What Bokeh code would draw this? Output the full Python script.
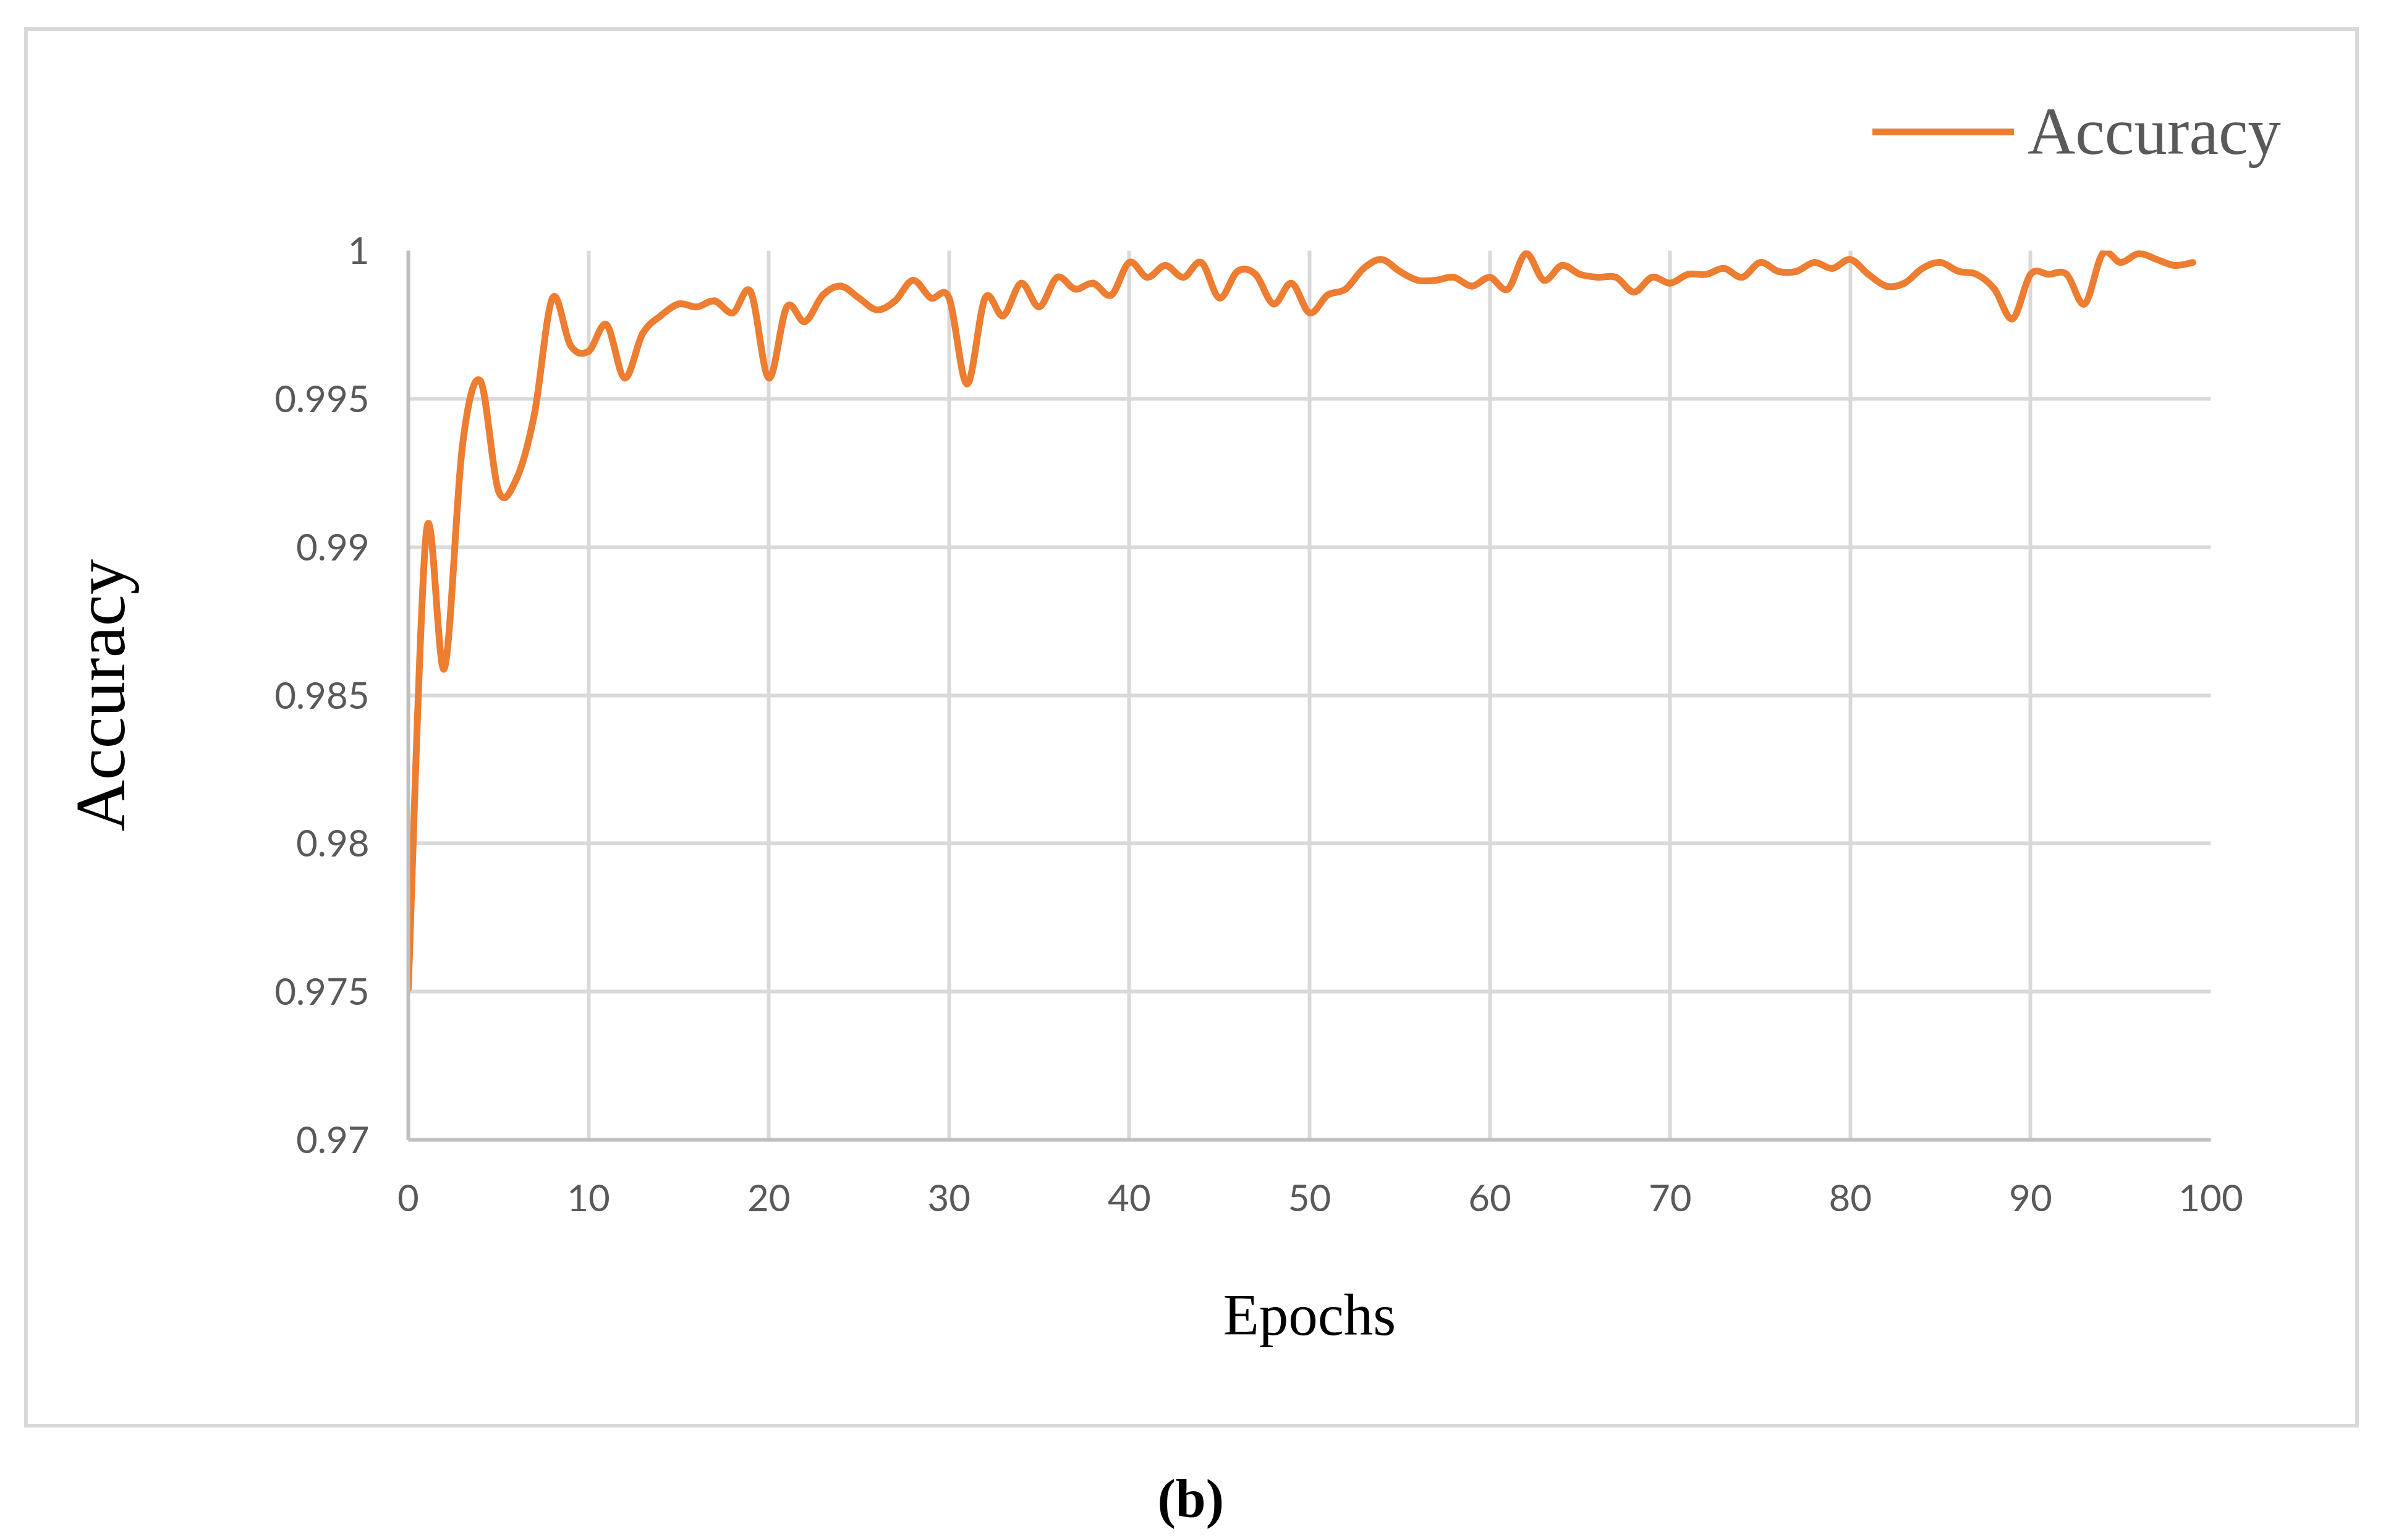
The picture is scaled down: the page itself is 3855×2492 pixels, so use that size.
from bokeh.plotting import figure
from bokeh.layouts import column
from bokeh.models import (FixedTicker, CustomJSTickFormatter, Legend, LegendItem,
                          Title, Range1d, ColumnDataSource)
from bokeh.embed import file_html
from bokeh.resources import INLINE

# ---------------- data ----------------
epochs = list(range(100))
accuracy = [
    0.9751, 0.9905, 0.9859, 0.9934, 0.9956, 0.9919, 0.9923, 0.9945, 0.9984, 0.9968,
    0.9966, 0.9975, 0.9957, 0.9972, 0.9978, 0.9982, 0.9981, 0.9983, 0.9979, 0.9986,
    0.9957, 0.9981, 0.9976, 0.9985, 0.9988, 0.9984, 0.9980, 0.9983, 0.9990, 0.9984,
    0.9984, 0.9955, 0.9984, 0.9978, 0.9989, 0.9981, 0.9991, 0.9987, 0.9989, 0.9985,
    0.9996, 0.9991, 0.9995, 0.9991, 0.9996, 0.9984, 0.9993, 0.9992, 0.9982, 0.9989,
    0.9979, 0.9985, 0.9987, 0.9994, 0.9997, 0.9993, 0.9990, 0.9990, 0.9991, 0.9988,
    0.9991, 0.9987, 0.9999, 0.9990, 0.9995, 0.9992, 0.9991, 0.9991, 0.9986, 0.9991,
    0.9989, 0.9992, 0.9992, 0.9994, 0.9991, 0.9996, 0.9993, 0.9993, 0.9996, 0.9994,
    0.9997, 0.9992, 0.9988, 0.9989, 0.9994, 0.9996, 0.9993, 0.9992, 0.9987, 0.9977,
    0.9992, 0.9992, 0.9992, 0.9982, 0.9999, 0.9996, 0.9999, 0.9997, 0.9995, 0.9996,
]
x_ticks = [0, 10, 20, 30, 40, 50, 60, 70, 80, 90, 100]
x_tick_labels = ["0", "10", "20", "30", "40", "50", "60", "70", "80", "90", "100"]
y_ticks = [0.97, 0.975, 0.98, 0.985, 0.99, 0.995, 1.0]
y_tick_labels = ["0.97", "0.975", "0.98", "0.985", "0.99", "0.995", "1"]
x_min, x_max = 0, 100
y_min, y_max = 0.97, 1.0
series_name = "Accuracy"
x_title = "Epochs"
y_title = "Accuracy"
caption = "(b)"

# ---------------- smoothed segments (Catmull-Rom -> Bezier, like Excel's smoothed line) ----
n = len(epochs)
seg = dict(x0=[], y0=[], x1=[], y1=[], cx0=[], cy0=[], cx1=[], cy1=[])
for i in range(n - 1):
    im = max(i - 1, 0)
    ip = min(i + 2, n - 1)
    seg["x0"].append(epochs[i]); seg["y0"].append(accuracy[i])
    seg["x1"].append(epochs[i + 1]); seg["y1"].append(accuracy[i + 1])
    seg["cx0"].append(epochs[i] + (epochs[i + 1] - epochs[im]) / 6.0)
    seg["cy0"].append(accuracy[i] + (accuracy[i + 1] - accuracy[im]) / 6.0)
    seg["cx1"].append(epochs[i + 1] - (epochs[ip] - epochs[i]) / 6.0)
    seg["cy1"].append(accuracy[i + 1] - (accuracy[ip] - accuracy[i]) / 6.0)
src = ColumnDataSource(seg)

# ---------------- layout (page pixels) ----------------
W = 3839
PAGE_H = 2320              # visible part of the main chart (inside + grey border)
H2 = 172                   # caption strip below it
FL, FR, FT, FB = 660, 3576, 405, 1844
# the legend panel above the frame takes a fixed 504 px, so the canvas is
# lifted by the difference to keep the plot frame at FT on the page
TOP_PANEL = 504
SHIFT = TOP_PANEL - FT
H = PAGE_H + SHIFT

# outer light-grey frame around the chart (CSS background strips, canvas coords)
BL, BT, BR, BB, BW = 42, 47 + SHIFT, 3813, 2307 + SHIFT, 6
strips = [
    (BL - 3, BT - 3, BR - BL + BW, BW),
    (BL - 3, BB - 3, BR - BL + BW, BW),
    (BL - 3, BT - 3, BW, BB - BT + BW),
    (BR - 3, BT - 3, BW, BB - BT + BW),
]
grad = "linear-gradient(#d9d9d9, #d9d9d9)"
styles = {
    "margin-top": f"-{SHIFT}px",
    "background-color": "white",
    "background-image": ", ".join([grad] * 4),
    "background-repeat": "no-repeat",
    "background-size": ", ".join(f"{w}px {h}px" for (_, _, w, h) in strips),
    "background-position": ", ".join(f"{x}px {y}px" for (x, y, _, _) in strips),
}

p = figure(width=W, height=H, output_backend="svg", toolbar_location=None,
           title=None,
           x_range=Range1d(x_min, x_max), y_range=Range1d(y_min, y_max),
           min_border_left=FL, min_border_right=W - FR,
           min_border_top=TOP_PANEL, min_border_bottom=H - (FB + SHIFT))
p.styles = styles
p.background_fill_color = "white"
p.border_fill_color = None
p.outline_line_color = None

ORANGE = "#ED7D31"
r = p.bezier(x0="x0", y0="y0", x1="x1", y1="y1", cx0="cx0", cy0="cy0",
             cx1="cx1", cy1="cy1", source=src, line_color=ORANGE,
             line_width=11, line_cap="round")

fmt_code = """
let best = 0; let d = Infinity;
for (let i = 0; i < tv.length; i++) {
  const e = Math.abs(tv[i] - tick);
  if (e < d) { d = e; best = i; }
}
return tl[best];
"""
p.xaxis.ticker = FixedTicker(ticks=x_ticks)
p.yaxis.ticker = FixedTicker(ticks=y_ticks)
p.xaxis.formatter = CustomJSTickFormatter(args=dict(tv=x_ticks, tl=x_tick_labels), code=fmt_code)
p.yaxis.formatter = CustomJSTickFormatter(args=dict(tv=y_ticks, tl=y_tick_labels), code=fmt_code)

for ax in (p.xaxis[0], p.yaxis[0]):
    ax.axis_line_color = "#bfbfbf"
    ax.axis_line_width = 6
    ax.major_tick_line_color = None
    ax.minor_tick_line_color = None
    ax.major_tick_in = 0
    ax.major_tick_out = 0
    ax.minor_tick_in = 0
    ax.minor_tick_out = 0
    ax.major_label_text_font = "Lato"
    ax.major_label_text_font_size = "60px"
    ax.major_label_text_color = "#595959"
    ax.axis_label_text_font = "Liberation Serif"
    ax.axis_label_text_font_style = "normal"
    ax.axis_label_text_color = "black"

p.xaxis.axis_label = x_title
p.yaxis.axis_label = y_title
p.xaxis.axis_label_text_font_size = "95px"
p.yaxis.axis_label_text_font_size = "115px"
p.xaxis.major_label_standoff = 72
p.yaxis.major_label_standoff = 63
p.xaxis.axis_label_standoff = 112
p.yaxis.axis_label_standoff = 215

p.xgrid.grid_line_color = "#d9d9d9"
p.ygrid.grid_line_color = "#d9d9d9"
p.xgrid.grid_line_width = 6
p.ygrid.grid_line_width = 6

# legend in the panel above the plot area; line centre at y=214, starting at x=3029
LEG_H = 130
LEG_VY = 123
legend = Legend(items=[LegendItem(label=series_name, renderers=[r])],
                location=(3029 - FL, LEG_VY), orientation="vertical",
                padding=0, margin=0, spacing=0,
                border_line_color=None, background_fill_alpha=0,
                glyph_width=229, glyph_height=LEG_H, label_height=LEG_H,
                label_standoff=22, label_text_font="Liberation Serif",
                label_text_font_size="107px", label_text_color="#595959")
p.add_layout(legend, "above")

# ---------------- caption strip "(b)" below the bordered chart ----------------
c = figure(width=W, height=H2, output_backend="svg", toolbar_location=None,
           title=None, x_axis_location=None, y_axis_location=None,
           x_range=Range1d(0, 1), y_range=Range1d(0, 1),
           min_border_left=FL, min_border_right=W - FR,
           min_border_top=0, min_border_bottom=0)
c.background_fill_color = "white"
c.border_fill_color = "white"
c.outline_line_color = None
c.grid.visible = False
cap = Title(text=caption, align="left", offset=1212, standoff=38,
            text_font="Liberation Serif", text_font_size="88px",
            text_font_style="bold", text_color="black")
c.add_layout(cap, "below")

page = column(p, c, spacing=0)
open("out.html", "w").write(file_html(page, INLINE))
